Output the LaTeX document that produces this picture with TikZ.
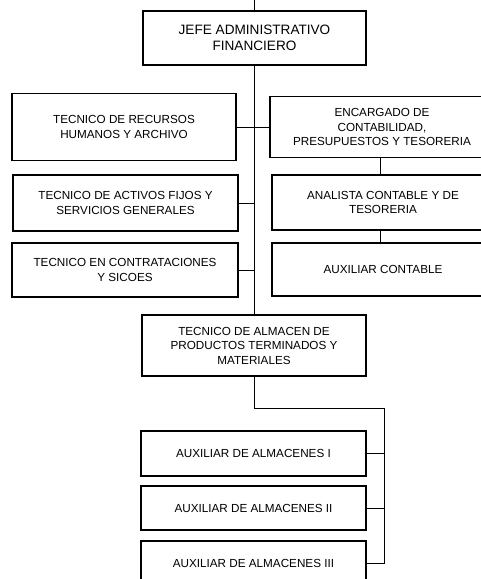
\documentclass[tikz,border=0pt]{standalone}
\usepackage{fontspec}
\setmainfont{Liberation Sans}
\usetikzlibrary{positioning}

\begin{document}
\begin{tikzpicture}[x=1pt, y=-1pt,
  cargo/.style={draw, line width=1.6pt, rectangle, align=center, inner sep=2pt,
    font=\fontsize{11.7}{14.5}\selectfont},
  enlace/.style={line width=0.7pt}]
\useasboundingbox (0,0) rectangle (481,579);
\clip (0,0) rectangle (481,579);
% jefatura
\node[cargo, minimum width=223pt, minimum height=54pt, font=\fontsize{13.6}{15.5}\selectfont] (jefe) at (254.5,38) {JEFE ADMINISTRATIVO\\FINANCIERO};
\coordinate (arriba) at (254.5,0);
% columna izquierda
\node[cargo, minimum width=224pt, minimum height=67pt] (rrhh) at (124,127) {TECNICO DE RECURSOS\\HUMANOS Y ARCHIVO};
\node[cargo, minimum width=225pt, minimum height=56pt] (activos) at (125.5,203) {TECNICO DE ACTIVOS FIJOS Y\\SERVICIOS GENERALES};
\node[cargo, minimum width=226pt, minimum height=54pt] (contrat) at (125,270) {TECNICO EN CONTRATACIONES\\Y SICOES};
% columna derecha
\node[cargo, minimum width=224pt, minimum height=61pt] (conta) at (382,127) {ENCARGADO DE\\CONTABILIDAD,\\PRESUPUESTOS Y TESORERIA};
\node[cargo, minimum width=222pt, minimum height=55pt] (analista) at (383,202.5) {ANALISTA CONTABLE Y DE\\TESORERIA};
\node[cargo, minimum width=222pt, minimum height=53pt] (auxcont) at (383,269.5) {AUXILIAR CONTABLE};
% almacen
\node[cargo, minimum width=224pt, minimum height=61pt] (almacen) at (254,345.5) {TECNICO DE ALMACEN DE\\PRODUCTOS TERMINADOS Y\\MATERIALES};
\node[cargo, minimum width=225pt, minimum height=45pt] (alm1) at (253.5,453.5) {AUXILIAR DE ALMACENES I};
\node[cargo, minimum width=225pt, minimum height=44pt] (alm2) at (253.5,508) {AUXILIAR DE ALMACENES II};
\node[cargo, minimum width=225pt, minimum height=44pt] (alm3) at (253.5,563) {AUXILIAR DE ALMACENES III};
\coordinate (bus) at (384,408);

\draw[enlace] (arriba) -- (jefe.north);
\draw[enlace] (jefe.south) -- (jefe.south |- almacen.north);
\draw[enlace] (rrhh.east) -- (conta.west);
\draw[enlace] (activos.east) -- (activos.east -| jefe.south);
\draw[enlace] (contrat.east) -- (contrat.east -| jefe.south);
\draw[enlace] (conta.south -| 380,0) -- (analista.north -| 380,0);
\draw[enlace] (analista.south -| 380,0) -- (auxcont.north -| 380,0);
\draw[enlace] (almacen.south) |- (bus) -- (bus |- alm3.east) -- (alm3.east);
\draw[enlace] (alm1.east) -- (alm1.east -| bus);
\draw[enlace] (alm2.east) -- (alm2.east -| bus);
\end{tikzpicture}
\end{document}
